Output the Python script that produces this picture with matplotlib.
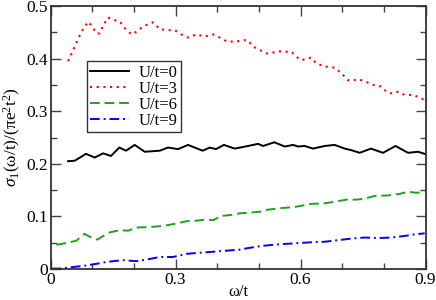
import numpy as np
import matplotlib
matplotlib.use('Agg')
from matplotlib import pyplot as plt
from matplotlib.ticker import MultipleLocator

#Optical conductivity curves
w_u0 = [0.042, 0.058, 0.085, 0.106, 0.126, 0.145, 0.165, 0.181, 0.202, 0.226, 0.262, 0.282,
        0.306, 0.330, 0.365, 0.382, 0.397, 0.416, 0.442, 0.474, 0.498, 0.510, 0.537, 0.562,
        0.582, 0.594, 0.610, 0.630, 0.658, 0.682, 0.706, 0.722, 0.742, 0.769, 0.798, 0.828,
        0.858, 0.882, 0.898]
s_u0 = [0.205, 0.206, 0.219, 0.212, 0.220, 0.215, 0.231, 0.225, 0.236, 0.223, 0.225, 0.231,
        0.228, 0.236, 0.225, 0.231, 0.228, 0.236, 0.229, 0.234, 0.238, 0.234, 0.241, 0.233,
        0.236, 0.233, 0.234, 0.229, 0.234, 0.236, 0.229, 0.226, 0.221, 0.229, 0.221, 0.234,
        0.221, 0.223, 0.219]

w_u3 = [0.042, 0.058, 0.074, 0.090, 0.098, 0.110, 0.118, 0.126, 0.138, 0.154, 0.166, 0.178,
        0.194, 0.206, 0.222, 0.246, 0.262, 0.286, 0.298, 0.314, 0.330, 0.350, 0.370, 0.390,
        0.402, 0.422, 0.442, 0.462, 0.473, 0.486, 0.498, 0.518, 0.526, 0.546, 0.566, 0.578,
        0.594, 0.602, 0.625, 0.638, 0.658, 0.682, 0.698, 0.714, 0.724, 0.738, 0.754, 0.774,
        0.794, 0.806, 0.818, 0.834, 0.850, 0.870, 0.886, 0.898]
s_u3 = [0.395, 0.423, 0.451, 0.470, 0.463, 0.448, 0.448, 0.463, 0.478, 0.473, 0.471, 0.458,
        0.446, 0.451, 0.461, 0.469, 0.456, 0.454, 0.454, 0.446, 0.440, 0.446, 0.442, 0.446,
        0.442, 0.433, 0.432, 0.435, 0.435, 0.423, 0.418, 0.410, 0.410, 0.414, 0.413, 0.413,
        0.401, 0.397, 0.402, 0.391, 0.385, 0.383, 0.372, 0.359, 0.358, 0.361, 0.357, 0.350,
        0.347, 0.337, 0.334, 0.337, 0.331, 0.331, 0.326, 0.321]

w_u6 = [0.014, 0.046, 0.062, 0.081, 0.098, 0.113, 0.138, 0.166, 0.186, 0.206, 0.238, 0.270,
        0.298, 0.326, 0.350, 0.370, 0.390, 0.410, 0.434, 0.454, 0.474, 0.502, 0.522, 0.554,
        0.586, 0.626, 0.658, 0.682, 0.710, 0.734, 0.754, 0.778, 0.810, 0.838, 0.858, 0.878,
        0.898]
s_u6 = [0.046, 0.051, 0.054, 0.067, 0.060, 0.056, 0.069, 0.074, 0.073, 0.079, 0.080, 0.082,
        0.086, 0.091, 0.092, 0.094, 0.093, 0.101, 0.103, 0.106, 0.107, 0.109, 0.113, 0.116,
        0.118, 0.124, 0.125, 0.128, 0.132, 0.132, 0.134, 0.139, 0.140, 0.143, 0.147, 0.145,
        0.147]

w_u9 = [0.002, 0.022, 0.054, 0.078, 0.110, 0.138, 0.174, 0.206, 0.230, 0.262, 0.294, 0.326,
        0.358, 0.390, 0.422, 0.454, 0.474, 0.506, 0.546, 0.586, 0.626, 0.658, 0.690, 0.722,
        0.754, 0.786, 0.818, 0.850, 0.874, 0.898]
s_u9 = [0.001, 0.001, 0.004, 0.006, 0.010, 0.014, 0.017, 0.015, 0.018, 0.023, 0.023, 0.029,
        0.031, 0.033, 0.035, 0.037, 0.040, 0.044, 0.047, 0.049, 0.051, 0.052, 0.055, 0.058,
        0.060, 0.059, 0.060, 0.063, 0.066, 0.068]

labels = ['U/t=0', 'U/t=3', 'U/t=6', 'U/t=9']

plt.rcParams['font.family'] = ['Liberation Serif', 'DejaVu Serif']
plt.rcParams['mathtext.fontset'] = 'custom'
plt.rcParams['mathtext.rm'] = 'Liberation Serif'
plt.rcParams['mathtext.it'] = 'Liberation Serif:italic'

fig = plt.figure(figsize=(4.36, 3.00), dpi=100)
ax = fig.add_axes([0.116, 0.103, 0.86, 0.877])

ax.plot(w_u0, s_u0, color='black', lw=1.4, label=labels[0])
ax.plot(w_u3, s_u3, color='red', lw=1.5, linestyle=(0, (1, 2.2)), label=labels[1])
ax.plot(w_u6, s_u6, color='#22a022', lw=1.4, linestyle=(0, (5, 2.5)), label=labels[2])
ax.plot(w_u9, s_u9, color='blue', lw=1.4, linestyle=(0, (5, 2, 1, 2)), label=labels[3])

ax.set_xlim(0, 0.9)
ax.set_ylim(0, 0.5)
ax.xaxis.set_minor_locator(MultipleLocator(0.1))
ax.yaxis.set_minor_locator(MultipleLocator(0.05))
ax.set_xticks([0, 0.3, 0.6, 0.9])
ax.set_xticklabels(['0', '0.3', '0.6', '0.9'])
ax.set_yticks([0, 0.1, 0.2, 0.3, 0.4, 0.5])
ax.set_yticklabels(['0', '0.1', '0.2', '0.3', '0.4', '0.5'])
ax.tick_params(which='both', direction='in', top=True, right=True, labelsize=12.5, color='#444444')
ax.tick_params(which='major', length=7, width=1, pad=2)
ax.tick_params(which='minor', length=4, width=1)
for sp in ax.spines.values():
    sp.set_linewidth(1.3)
    sp.set_color('#333333')

ax.set_xlabel('ω/t', fontsize=12, labelpad=-3)
ax.set_ylabel(r'$\sigma_1$(ω/t)/(πe$^2$t$^2$)', fontsize=12.5, labelpad=2)

leg = ax.legend(loc='upper left', bbox_to_anchor=(0.097, 0.79), fontsize=12, frameon=True,
                fancybox=False, edgecolor='#333333', framealpha=1, handlelength=2.3,
                handletextpad=0.6, borderpad=0.2, labelspacing=0.0, borderaxespad=0)
leg.get_frame().set_linewidth(1.0)

fig.savefig('out.png', dpi=100)
